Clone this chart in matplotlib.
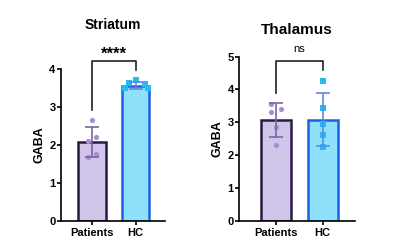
import matplotlib
matplotlib.use("Agg")
import matplotlib.pyplot as plt
import numpy as np

plt.rcParams['font.family'] = ['Liberation Sans', 'DejaVu Sans']
plt.rcParams['font.weight'] = 'bold'

groups = ["Patients", "HC"]

# Striatum
str_means = [2.07, 3.57]
str_sd = [0.40, 0.10]
str_pat_pts = [2.65, 2.22, 2.10, 1.77, 1.68]
str_hc_pts = [3.72, 3.65, 3.62, 3.52, 3.50]
str_sig = "****"

# Thalamus
tha_means = [3.07, 3.08]
tha_sd = [0.51, 0.80]
tha_pat_pts = [3.55, 3.40, 3.30, 2.87, 2.31]
tha_hc_pts = [4.27, 3.43, 2.94, 2.61, 2.24]
tha_sig = "ns"

pat_fill = "#D0C4E8"
pat_edge = "#2A1A48"
pat_pt = "#A88DD6"
pat_err = "#7A64A6"
hc_fill = "#8FE1FB"
hc_edge = "#1E5FE8"
hc_pt = "#27B9F2"
hc_err = "#5C8CE4"

fig = plt.figure(figsize=(4.0, 2.46), dpi=100)


def panel(rect, title, tfs, title_y, means, sd, pat_pts, hc_pts, pat_off, hc_off,
          ylim, yticks, xlim, sig, sig_fs, br_top, br_left, br_right, sig_y):
    ax = fig.add_axes(rect)
    x = np.arange(2)
    ax.bar(x, means, width=0.64, color=[pat_fill, hc_fill],
           edgecolor=[pat_edge, hc_edge], linewidth=1.8, zorder=2)
    ax.scatter(np.array(pat_off), pat_pts, s=14, color=pat_pt, marker='o',
               zorder=3, linewidths=0)
    ax.scatter(1 + np.array(hc_off), hc_pts, s=14, color=hc_pt, marker='s',
               zorder=3, linewidths=0)
    for i, c in enumerate([pat_err, hc_err]):
        ax.errorbar(x[i], means[i], yerr=sd[i], color=c, capsize=5,
                    elinewidth=1.2, capthick=1.2, zorder=4)
    ax.set_xlim(*xlim)
    ax.set_ylim(*ylim)
    ax.set_yticks(yticks)
    ax.set_xticks(x)
    ax.set_xticklabels(groups, fontsize=8, fontweight='bold')
    ax.tick_params(axis='y', labelsize=8, width=1.2, length=3, pad=1)
    ax.tick_params(axis='x', width=1.2, length=3, pad=2)
    for lab in ax.get_yticklabels():
        lab.set_fontweight('bold')
    ax.spines['top'].set_visible(False)
    ax.spines['right'].set_visible(False)
    ax.spines['left'].set_linewidth(1.2)
    ax.spines['bottom'].set_linewidth(1.2)
    ax.set_ylabel("GABA", fontsize=9, fontweight='bold', labelpad=3)
    ax.plot([0, 0, 1, 1], [br_left, br_top, br_top, br_right], color="#222222",
            lw=1.2, clip_on=False, zorder=5)
    ax.text(0.5, sig_y, sig, ha='center', va='center', fontsize=sig_fs,
            fontweight='normal' if sig == 'ns' else 'bold', clip_on=False)
    ax.text(0.5, title_y, title, transform=ax.transAxes, ha='center', va='center',
            fontsize=tfs, fontweight='bold')
    return ax


panel([0.1525, 0.103, 0.26, 0.615], "Striatum", 10, 1.29,
      str_means, str_sd, str_pat_pts, str_hc_pts,
      [0.0, 0.09, -0.09, 0.09, -0.09], [0.0, -0.16, 0.22, -0.24, 0.28],
      (0, 4), [0, 1, 2, 3, 4], (-0.713, 1.678), str_sig, 12,
      4.21, 2.93, 3.99, 4.40)

panel([0.598, 0.103, 0.2895, 0.6665], "Thalamus", 11, 1.163,
      tha_means, tha_sd, tha_pat_pts, tha_hc_pts,
      [-0.1, 0.1, -0.1, 0.0, 0.0], [0.0, 0.0, 0.0, 0.0, 0.0],
      (0, 5), [0, 1, 2, 3, 4, 5], (-0.786, 1.69), tha_sig, 8,
      4.88, 3.88, 4.59, 5.25)

fig.savefig("out.png", dpi=100)
